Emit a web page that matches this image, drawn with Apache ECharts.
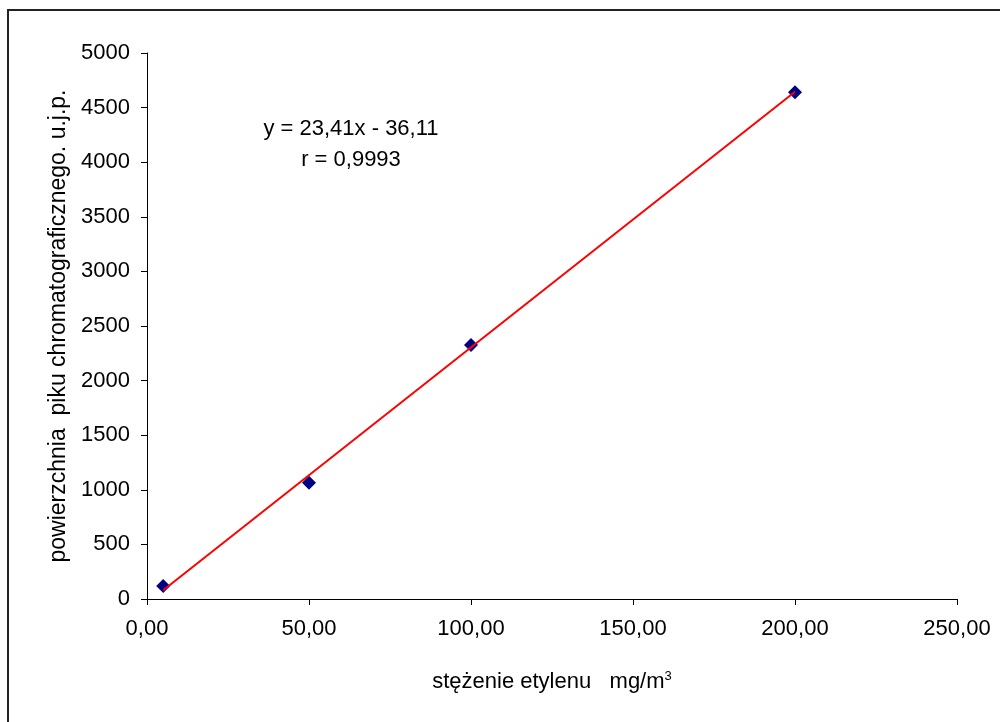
<!DOCTYPE html>
<html>
<head>
<meta charset="utf-8">
<script src="https://cdn.jsdelivr.net/npm/echarts@6/dist/echarts.min.js"></script>
<style>
html,body{margin:0;padding:0;background:#fff;}
#chart{width:1000px;height:722px;}
</style>
</head>
<body>
<div id="chart"></div>
<script>
// Data
var concentrations = [5, 50, 100, 200];          // mg/m3
var peakAreas = [119, 1065, 2326, 4640];          // u.j.p.
var trendSlope = 23.41;
var trendIntercept = -36.11;
var equationLines = ['y = 23,41x - 36,11', 'r = 0,9993'];
var xTitle = 'stężenie etylenu   mg/m';
var yTitle = 'powierzchnia  piku chromatograficznego. u.j.p.';

var points = concentrations.map(function (x, i) { return [x, peakAreas[i]]; });
var xMinData = Math.min.apply(null, concentrations);
var xMaxData = Math.max.apply(null, concentrations);
var trend = [
  [xMinData, trendSlope * xMinData + trendIntercept],
  [xMaxData, trendSlope * xMaxData + trendIntercept]
];

var FONT = '"Liberation Sans", Arial, sans-serif';
var FS = 22;
var chart = echarts.init(document.getElementById('chart'));
chart.setOption({
  animation: false,
  backgroundColor: '#fff',
  textStyle: { fontFamily: FONT },
  grid: { left: 147, right: 43, top: 53, bottom: 123, containLabel: false },
  xAxis: {
    type: 'value', min: 0, max: 250, interval: 50,
    axisLine: { show: true, onZero: false, lineStyle: { color: '#000', width: 1 } },
    axisTick: { show: true, inside: false, length: 6, lineStyle: { color: '#000' } },
    splitLine: { show: false },
    axisLabel: {
      color: '#000', fontSize: FS, fontFamily: FONT, margin: 19,
      formatter: function (v) { return v.toFixed(2).replace('.', ','); }
    },
    name: '{t|' + xTitle + '}{s|3}',
    nameLocation: 'middle', nameGap: 70,
    nameTextStyle: {
      rich: {
        t: { fontSize: FS, color: '#000', fontFamily: FONT, lineHeight: 26 },
        s: { fontSize: 13, color: '#000', fontFamily: FONT, lineHeight: 26, padding: [0, 0, 12, 0] }
      }
    }
  },
  yAxis: {
    type: 'value', min: 0, max: 5000, interval: 500,
    axisLine: { show: true, onZero: false, lineStyle: { color: '#000', width: 1 } },
    axisTick: { show: true, inside: false, length: 6, lineStyle: { color: '#000' } },
    splitLine: { show: false },
    axisLabel: {
      color: '#000', fontSize: FS, fontFamily: FONT, margin: 17,
      formatter: function (v) { return String(v); }
    },
    name: yTitle,
    nameLocation: 'middle', nameGap: 74, nameRotate: 90,
    nameTextStyle: { fontSize: 23, color: '#000', fontFamily: FONT }
  },
  graphic: [
    {
      type: 'rect', silent: true, z: -1,
      shape: { x: 8, y: 10, width: 1010, height: 740 },
      style: { fill: 'none', stroke: '#222', lineWidth: 2 }
    },
    {
      type: 'text', x: 351, y: 113, silent: true,
      style: {
        text: equationLines.join('\n'), fontSize: FS, fontFamily: FONT,
        fill: '#000', align: 'center', textAlign: 'center', lineHeight: 31
      }
    }
  ],
  series: [
    {
      type: 'scatter', data: points, symbol: 'diamond', symbolSize: 14,
      itemStyle: { color: '#000080', opacity: 1 }, z: 2
    },
    {
      type: 'line', data: trend, showSymbol: false, symbol: 'none',
      lineStyle: { color: '#ff0000', width: 2 }, z: 3
    }
  ]
});
</script>
</body>
</html>
